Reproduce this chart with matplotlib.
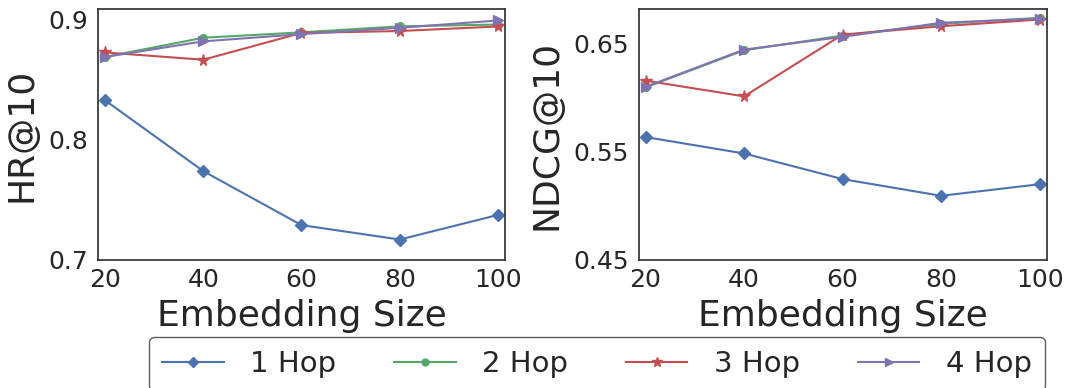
import matplotlib
matplotlib.use("Agg")
import matplotlib.pyplot as plt

# Embedding sizes on the x axis
embedding_sizes = [20, 40, 60, 80, 100]
series_labels = ["1 Hop", "2 Hop", "3 Hop", "4 Hop"]

# HR@10 per number of hops
hr_1hop = [0.833, 0.774, 0.729, 0.717, 0.7375]
hr_2hop = [0.869, 0.885, 0.8895, 0.8945, 0.896]
hr_3hop = [0.8728, 0.8667, 0.889, 0.8906, 0.8944]
hr_4hop = [0.869, 0.882, 0.888, 0.8933, 0.8994]

# NDCG@10 per number of hops
ndcg_1hop = [0.5636, 0.5484, 0.5247, 0.5093, 0.520]
ndcg_2hop = [0.6095, 0.6438, 0.6574, 0.6682, 0.6738]
ndcg_3hop = [0.6157, 0.6012, 0.6583, 0.6660, 0.6722]
ndcg_4hop = [0.610, 0.6444, 0.6562, 0.6692, 0.6731]

hr_ticks = [0.7, 0.8, 0.9]
ndcg_ticks = [0.45, 0.55, 0.65]

colors = ["#4C72B0", "#55A868", "#C44E52", "#8172B2"]
markers = ["D", "o", "*", ">"]
marker_sizes = [6, 5.5, 8.5, 7]

text_color = "#262626"
plt.rcParams["font.family"] = ["DejaVu Sans"]
plt.rcParams["text.color"] = text_color
plt.rcParams["axes.labelcolor"] = text_color
plt.rcParams["xtick.color"] = text_color
plt.rcParams["ytick.color"] = text_color

fig = plt.figure(figsize=(10.68, 3.88), dpi=100)
ax_hr = fig.add_axes([0.0918, 0.330, 0.381, 0.647])
ax_ndcg = fig.add_axes([0.598, 0.330, 0.382, 0.647])

panels = [
    (ax_hr, [hr_1hop, hr_2hop, hr_3hop, hr_4hop], "HR@10", hr_ticks, (0.7, 0.909)),
    (ax_ndcg, [ndcg_1hop, ndcg_2hop, ndcg_3hop, ndcg_4hop], "NDCG@10", ndcg_ticks, (0.45, 0.682)),
]

handles = []
for ax, series, ylabel, yticks, ylim in panels:
    lines = []
    for vals, c, m, ms, lab in zip(series, colors, markers, marker_sizes, series_labels):
        ln, = ax.plot(embedding_sizes, vals, color=c, marker=m, markersize=ms,
                      linewidth=1.5, label=lab)
        lines.append(ln)
    handles = lines
    ax.set_xlim(18.6, 101.4)
    ax.set_ylim(*ylim)
    ax.set_xticks(embedding_sizes)
    ax.set_yticks(yticks)
    ax.set_yticklabels([f"{t:g}" for t in yticks])
    ax.tick_params(axis="both", which="both", length=0, labelsize=18)
    ax.tick_params(axis="x", pad=6)
    ax.tick_params(axis="y", pad=7)
    ax.set_xlabel("Embedding Size", fontsize=26, labelpad=5)
    ax.set_ylabel(ylabel, fontsize=26, labelpad=7)
    for sp in ax.spines.values():
        sp.set_color("#333333")
        sp.set_linewidth(1.25)

leg = fig.legend(handles, series_labels, loc="upper center", ncol=4,
                 bbox_to_anchor=(0.559, 0.17), fontsize=21, frameon=True,
                 handlelength=2.1, handletextpad=0.9, columnspacing=2.0,
                 markerscale=0.9, borderpad=0.45, fancybox=True)
leg.get_frame().set_edgecolor("#333333")
leg.get_frame().set_linewidth(1.0)

fig.savefig("out.png", dpi=100)
